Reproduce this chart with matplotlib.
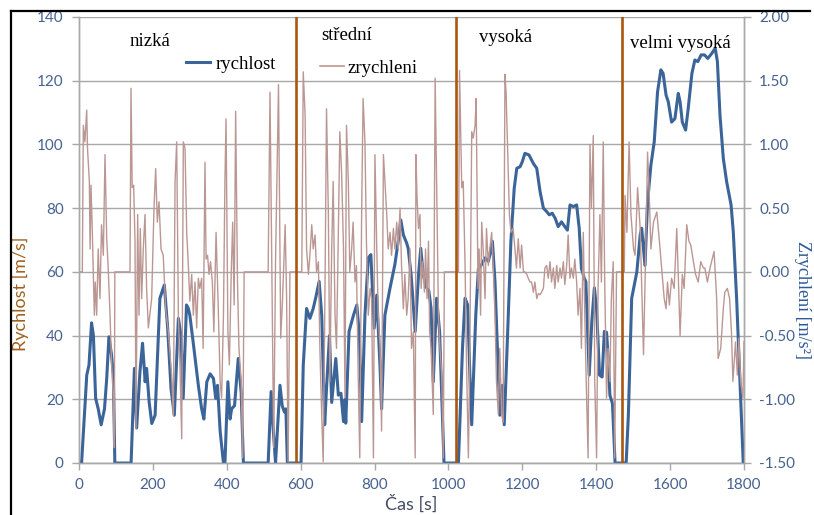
import matplotlib
matplotlib.use("Agg")
import matplotlib.pyplot as plt
from matplotlib.lines import Line2D

# Driving cycle: vehicle speed (left axis) and acceleration (right axis)
speed_t = [0, 7, 21, 27, 34, 39, 45, 52, 60, 69, 75, 81, 88, 93, 97,
           141, 150, 156, 165, 172, 179, 183, 190, 197, 206, 219, 231, 240, 249, 258,
           269, 276, 282, 291, 296, 300, 310, 323, 332, 338, 346, 355, 364, 370, 375,
           382, 391, 395, 403, 409, 413, 421, 431, 439, 445,
           512, 520, 526, 532, 544, 550, 556, 560, 564,
           601, 607, 616, 625, 634, 641, 650, 657, 665, 670, 678, 684, 695, 702, 709,
           716, 720, 722, 731, 743, 752, 759, 765, 774, 783, 790, 799, 806, 815, 819,
           828, 842, 855, 864, 871, 878, 887, 891, 899, 910, 919, 925, 932, 941, 947,
           953, 959, 968, 976, 982, 988,
           1027, 1038, 1045, 1052, 1058, 1063, 1074, 1081, 1090, 1099, 1108, 1112, 1119,
           1126, 1133, 1139, 1146, 1151, 1162, 1169, 1178, 1185, 1194, 1200, 1207, 1218,
           1230, 1239, 1248, 1257, 1266, 1273, 1281, 1289, 1297, 1306, 1315, 1322, 1329,
           1338, 1347, 1354, 1360, 1368, 1372, 1381, 1388, 1395, 1401, 1409, 1416, 1422,
           1428, 1432, 1437, 1444, 1451,
           1481, 1487, 1496, 1510, 1519, 1523, 1532, 1539, 1548, 1557, 1566, 1575, 1581,
           1589, 1595, 1604, 1613, 1622, 1627, 1633, 1642, 1649, 1659, 1667, 1675, 1684,
           1693, 1702, 1713, 1722, 1728, 1735, 1744, 1753, 1765, 1771, 1780, 1789, 1798]
speed_v = [0, 0, 27.6, 30.7, 44, 40, 20.3, 17, 12, 17, 26.5, 39.6, 34, 27.6, 0,
           0, 29.7, 11, 28.7, 37.6, 25.5, 29.7, 19, 12.4, 15, 51.7, 55.9, 42.3, 23.4, 15,
           45.4, 40, 20.3, 49.6, 48.5, 46.4, 37, 24.4, 17, 13.8, 25.5, 28, 26.5, 20.3, 24.4,
           10, 0, 0, 25.5, 13.8, 17, 18, 32.8, 22, 0,
           0, 22.4, 10, 0, 24.4, 18, 16, 17, 0,
           0, 30.7, 48.5, 45.4, 48.5, 52, 57, 46.4, 12, 23.4, 40, 19, 32.8, 21.3, 21.9,
           13, 20, 12.5, 41.3, 46.4, 49.6, 40, 13, 46.4, 64.4, 65.4, 42.3, 52.7, 29.7, 17,
           46.4, 55, 62.3, 69.6, 76.3, 71.6, 69, 67.4, 59, 41.3, 59, 67.4, 59, 55, 54,
           48.5, 25.5, 51.7, 41.3, 20.3, 0,
           0, 36, 51.7, 49.6, 27.6, 12, 46.4, 61, 62.3, 64.4, 63.3, 65.4, 69.6,
           57, 33.9, 15, 24.4, 12, 46.4, 69.6, 86.2, 92.5, 93, 94.6, 97.2, 96.7,
           94, 92.5, 85.2, 80, 78.9, 77.9, 78.4, 76.8, 74.2, 75.7, 74.2, 73.1, 81,
           80.5, 81, 73.6, 61, 57.9, 56.9, 27.6, 44.3, 55, 48.5, 27.6, 27, 41.3,
           41, 33.9, 21.3, 18.6, 0,
           0, 15, 51.7, 60, 71.6, 73.7, 62, 82, 93.5, 100.8, 116.5, 123.4, 122.3,
           115.5, 113.4, 107, 108.1, 116, 113.4, 107, 104.5, 111.3, 122.3, 126.5, 126, 128.1,
           128.1, 127, 128.6, 130.2, 126, 109.2, 95.6, 88.3, 81, 72.6, 51.7, 25.5, 0]

accel_t = [0, 9, 11.7, 16, 20.8, 23, 28, 30, 32.5, 36, 41.5, 44, 47.8, 52, 56.8, 61, 65.9,
           70.4, 75, 79, 84, 88, 93, 95.6, 97, 138, 140.8, 144, 148, 151.6, 154.3, 158.8,
           162.4, 166, 169.6, 174, 178.7, 183, 187.7, 196.7, 203, 207.5, 212, 216.6, 222,
           228, 234.6, 241.8, 250.8, 255.4, 260, 264.4, 269, 273.4, 278, 282.4, 287, 291.5,
           296, 300, 305, 309.5, 314, 318.5, 323, 327, 332, 336, 341, 344, 348, 352, 356,
           361, 365, 371, 377, 382, 386, 391, 395, 398, 403, 407, 412, 416, 420, 424, 429,
           433, 439, 443, 447, 512, 517, 522, 527, 532, 540, 546, 551, 558, 562, 566, 571,
           603, 607, 612, 616, 621, 625, 630, 634, 639, 643, 648, 652, 657, 661, 666, 670,
           675, 679, 684, 688, 693, 697, 702, 706, 711, 716, 720, 724, 729, 733, 738, 742,
           747, 751, 756, 760, 765, 769, 774, 778, 783, 788, 792, 797, 801, 806, 810, 815,
           819, 824, 828, 833, 837, 842, 846, 851, 855, 860, 864, 869, 873, 878, 882, 887,
           891, 896, 900, 905, 910, 912, 915, 919, 923, 926, 930, 935, 938, 942, 946, 949,
           953, 956, 959, 964, 968, 973, 977, 982, 986, 989, 1027, 1030, 1036, 1040, 1045,
           1049, 1054, 1058, 1063, 1067, 1072, 1075, 1080, 1083, 1087, 1090, 1094, 1099,
           1103, 1108, 1112, 1117, 1121, 1126, 1130, 1135, 1139, 1144, 1148, 1153, 1156,
           1160, 1165, 1169, 1175, 1180, 1184, 1189, 1194, 1198, 1203, 1207, 1212, 1216,
           1221, 1225, 1230, 1234, 1239, 1243, 1248, 1252, 1257, 1261, 1266, 1270, 1275,
           1279, 1284, 1288, 1293, 1297, 1302, 1306, 1311, 1315, 1320, 1324, 1329, 1333,
           1338, 1342, 1347, 1351, 1356, 1360, 1365, 1369, 1374, 1378, 1383, 1387, 1392,
           1396, 1401, 1405, 1410, 1414, 1419, 1423, 1428, 1432, 1437, 1441, 1446, 1450,
           1455, 1476, 1478, 1483, 1489, 1494, 1501, 1505, 1512, 1519, 1524, 1528, 1534,
           1539, 1543, 1548, 1555, 1564, 1571, 1577, 1584, 1589, 1593, 1598, 1604, 1611,
           1618, 1622, 1627, 1633, 1638, 1645, 1651, 1656, 1663, 1669, 1676, 1683, 1690,
           1694, 1701, 1708, 1714, 1719, 1726, 1730, 1737, 1744, 1748, 1755, 1761, 1766,
           1770, 1777, 1782, 1786, 1791, 1797, 1800]
accel_v = [0, 0, 1.15, 1.02, 1.27, 0.97, 0.71, 0.18, 0.68, 0.32, -0.34, -0.08, -0.34, 0.18,
           -0.21, 0.37, 0.13, 0.92, 0.26, 0.03, -0.34, -0.70, -0.99, -1.38, 0, 0, 1.44, 0.66,
           0.68, 0.24, -1.23, 0.45, -0.34, 0.34, -0.21, 0.18, 0.45, -0.13, -0.44, -0.21, 0.50,
           0.81, 0.39, 0.55, 0.18, 0.13, -0.29, -0.47, -0.81, -1.13, 0.71, 1.02, -0.34, -0.76,
           -1.31, 1.02, 0.97, 0.31, 0.05, -0.23, -0.02, -0.34, -0.08, -0.44, -0.05, -0.13,
           -0.05, -0.60, 0.86, 0.10, 0.13, -0.02, 0.08, -0.08, -0.47, 0.31, -0.29, -0.86,
           -0.99, -0.34, 0.71, 1.20, -0.47, -0.73, -0.02, 0.39, -0.26, 1.26, -0.08, -0.60,
           -0.86, -1.46, 0, 0, 1.41, 0.05, -1.38, 0.08, 1.47, -0.52, -0.21, 0.37, -0.21, -1.49,
           0, 0, 1.57, 1.23, 0.18, -0.02, 0.13, 0.37, 0.18, 0.29, 0, 0.08, -0.60, -1.13,
           -1.49, -0.08, 1.28, 0.45, -0.86, 0.18, 0.71, -0.34, -0.60, 0.31, 1.10, 0.76, 0.18,
           -0.99, 1.15, 0.71, 0, 0.18, 0.39, -0.08, 0.05, -0.86, -1.46, 0.45, 1.36, 1.02,
           0.24, -0.34, -0.13, -0.21, -1.46, 0.92, 0.18, -0.34, -0.60, -1.25, 0.92, 0.71,
           0.45, 0.18, 0.31, 0.13, 0.34, 0.18, 0.39, 0.18, 0.50, 0.05, -0.29, -0.02, -0.34,
           -0.21, 0.18, -0.60, -0.47, -1.46, 0.92, 0.58, 0.34, 0.45, -0.13, 0.08, -0.16,
           0.18, -0.21, 0.24, -0.47, -0.60, -0.86, -1.12, 1.52, 0.71, -0.34, -0.60, -0.81,
           -1.46, 0, 0, 1.58, 0.66, 0.71, 0.05, -0.73, -1.46, -0.60, 1.10, 1.05, 1.15, 1.36,
           -0.13, 0.18, -0.34, 0.39, 0.18, -0.21, 0.34, 0.05, 0.18, 0.31, 0.05, -0.34, -0.86,
           -1.12, -0.60, -1.12, -1.18, 1.55, 1.41, 0.97, 0.45, 0.31, 0.34, 0.18, 0.03, 0.26,
           0.03, 0.21, 0, 0, -0.02, -0.05, -0.08, -0.08, -0.16, -0.08, -0.21, -0.17, -0.18,
           -0.16, -0.13, 0.03, 0.05, -0.05, 0.08, -0.08, 0.03, -0.13, 0.05, -0.08, 0.03,
           -0.05, 0.08, -0.10, 0.05, 0.29, -0.05, 0.03, -0.05, 0.10, -0.08, -0.34, -0.13,
           -0.60, 0.31, -0.34, -0.99, -1.46, 1.00, 0.50, 1.07, -0.86, -1.46, -0.13, 0.45,
           -0.08, 1.02, -0.08, -0.99, -0.60, -0.86, -0.21, 0.08, -1.46, 0, 0, 0.60, 0.31,
           1.02, 0.45, 0.18, 0.13, 0.66, 0.34, -0.21, -0.65, 0.18, 0.94, 0.66, 0.18, 0.39,
           0.47, 0.24, 0.03, -0.21, -0.29, -0.08, -0.26, -0.05, -0.13, 0.34, -0.02, -0.50,
           -0.02, -0.13, 0.37, 0.24, 0.21, 0.08, -0.02, -0.08, 0.08, 0.03, 0.03, -0.08, 0.03,
           0.10, 0.16, -0.21, -0.68, -0.60, -0.29, -0.16, -0.13, -0.21, -0.47, -0.86, -0.55,
           -0.81, -0.52, -0.86, -0.99, -0.55]

phase_bounds = [588, 1020, 1469]
phase_names = ["nizká", "střední", "vysoká", "velmi vysoká"]
x_ticks = list(range(0, 1801, 200))
speed_ticks = list(range(0, 141, 20))
accel_ticks = [-1.5, -1.0, -0.5, 0.0, 0.5, 1.0, 1.5, 2.0]

W, H = 814, 515
tick_color = "#46628f"
grid_color = "#a8a8a8"
speed_color = "#3b6499"
accel_color = "#bb9793"
phase_color = "#a9560f"
sans = ["Lato", "DejaVu Sans"]
serif = ["Liberation Serif", "DejaVu Serif"]

fig = plt.figure(figsize=(W / 100, H / 100), dpi=100)
ax = fig.add_axes([79 / W, 1 - 463 / H, 665 / W, 446 / H])
ax2 = ax.twinx()

# speed on the left axis
ax.plot(speed_t, speed_v, color=speed_color, lw=2.2, solid_joinstyle="round", zorder=3)
ax.set_xlim(0, 1800)
ax.set_ylim(0, 140)
ax.set_xticks(x_ticks)
ax.set_yticks(speed_ticks)
ax.grid(axis="y", color=grid_color, lw=1.0)
ax.set_axisbelow(True)

# acceleration on the right axis
ax2.plot(accel_t, accel_v, color=accel_color, lw=1.0, zorder=2)
ax2.set_ylim(-1.5, 2.0)
ax2.set_yticks(accel_ticks)
ax2.set_yticklabels([f"{v:.2f}" for v in accel_ticks])

# phase boundaries
for b in phase_bounds:
    ax2.axvline(b, color=phase_color, lw=1.9, zorder=4)

for a in (ax, ax2):
    for s in a.spines.values():
        s.set_color(grid_color)
        s.set_linewidth(1.0)
    a.tick_params(colors=grid_color, labelcolor=tick_color, length=5, width=1.0,
                  labelsize=11, pad=6)
    for lab in a.get_xticklabels() + a.get_yticklabels():
        lab.set_family(sans)
ax.spines["top"].set_visible(False)
ax2.spines["top"].set_visible(False)

ax.set_xlabel("Čas [s]", family=sans, fontsize=13, color="#404a62", labelpad=2)
ax.set_ylabel("Rychlost [m/s]", family=sans, fontsize=13, color="#a0601e", labelpad=4)
ax.yaxis.set_label_coords(-0.075, 0.38)
fig.text(803 / W, 1 - 300 / H, "Zrychlení [m/s²]", rotation=270, family=serif,
         fontsize=13, color="#2d5a98", ha="center", va="center")

# phase names
label_pos = [(150, 42), (347, 35), (506, 38), (680, 43)]
for name, (px, py) in zip(phase_names, label_pos):
    fig.text(px / W, 1 - py / H, name, family=serif, fontsize=13.5, color="black",
             ha="center", va="center")

# series keys
leg1 = ax2.legend([Line2D([], [], color=speed_color, lw=2.2)], ["rychlost"],
                  loc="center left", bbox_to_anchor=((186 - 79) / 665, (463 - 64) / 446),
                  frameon=False, borderpad=0, borderaxespad=0, handlelength=1.3,
                  handletextpad=0.3, prop={"family": serif, "size": 13.5})
ax2.add_artist(leg1)
ax2.legend([Line2D([], [], color=accel_color, lw=1.2)], ["zrychleni"],
           loc="center left", bbox_to_anchor=((320 - 79) / 665, (463 - 68) / 446),
           frameon=False, borderpad=0, borderaxespad=0, handlelength=1.3,
           handletextpad=0.15, prop={"family": serif, "size": 13.5})

# page frame
fig.add_artist(Line2D([11 / W, 810 / W], [1 - 11 / H, 1 - 11 / H], color="black", lw=1.6))
fig.add_artist(Line2D([11 / W, 11 / W], [0, 1 - 11 / H], color="black", lw=1.6))

fig.savefig("out.png", dpi=100)
